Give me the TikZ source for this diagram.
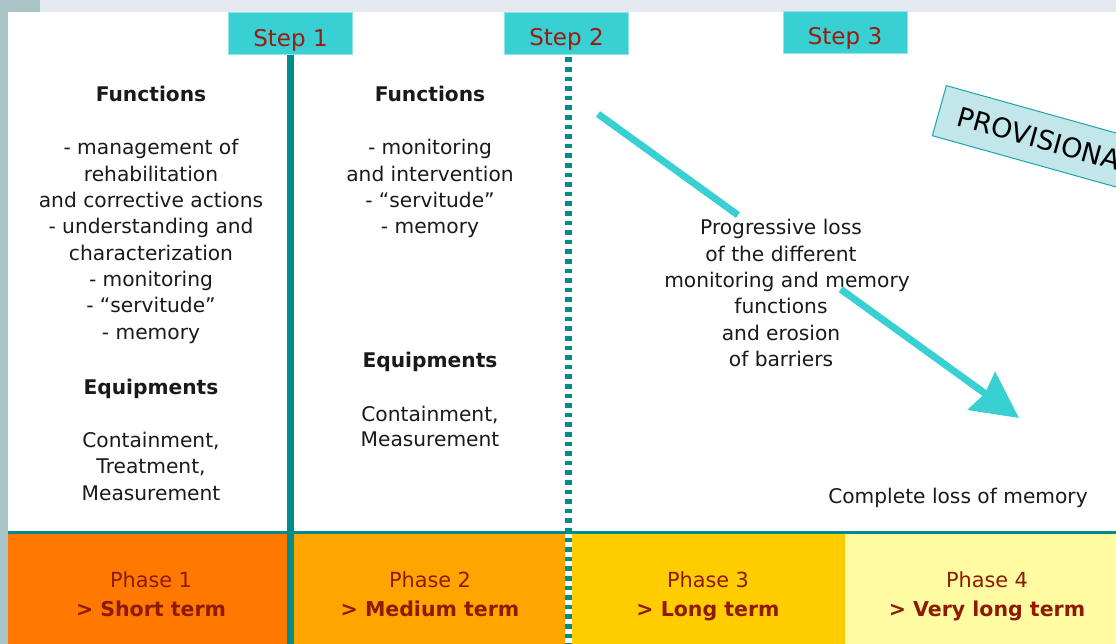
\documentclass[tikz,border=0pt]{standalone}
\usepackage{fontspec}
\setmainfont{DejaVu Sans}
\usetikzlibrary{arrows.meta,calc}
\definecolor{tealline}{HTML}{008B8B}
\definecolor{cyanfill}{HTML}{38D0D3}
\definecolor{stepred}{HTML}{9B1B0E}
\definecolor{phred}{HTML}{8E1A00}
\definecolor{phone}{HTML}{FF7800}
\definecolor{phtwo}{HTML}{FFA500}
\definecolor{phthree}{HTML}{FFCC00}
\definecolor{phfour}{HTML}{FFFBA2}
\definecolor{topband}{HTML}{E3E8F1}
\definecolor{sideband}{HTML}{A9C5C7}
\definecolor{provfill}{HTML}{C2E6E9}
\definecolor{provline}{HTML}{1AA5AA}
\definecolor{ink}{HTML}{1A1A1A}
\begin{document}
\begin{tikzpicture}[x=1pt,y=-1pt,
  txt/.style={anchor=base, inner sep=0pt, text=ink, font=\fontsize{20.2}{24}\selectfont},
  hd/.style={txt, font=\fontsize{20.2}{24}\selectfont\bfseries},
  stepbox/.style={fill=cyanfill, draw=cyanfill!55!white, line width=1pt, inner sep=0pt, minimum width=124pt, minimum height=42pt},
  steptxt/.style={anchor=base, inner sep=0pt, text=stepred, font=\fontsize{23}{27}\selectfont},
  phtxt/.style={anchor=base, inner sep=0pt, text=phred, font=\fontsize{20.8}{24}\selectfont},
  phbold/.style={phtxt, font=\fontsize{20.5}{24}\selectfont\bfseries},
  solidline/.style={draw=tealline, line width=7.6pt},
  dotline/.style={draw=tealline, line width=7pt, dash pattern=on 4.6pt off 5pt},
  arrowline/.style={draw=cyanfill, line width=7pt},
  prov/.style={fill=provfill, draw=provline, line width=1pt, minimum height=52pt, inner xsep=20pt, inner ysep=0pt, text=black, font=\fontsize{27}{32}\selectfont}
]
\useasboundingbox (0,0) rectangle (1116,644);
\clip (0,0) rectangle (1116,644);
% background bands
\fill[white] (0,0) rectangle (1116,644);
\fill[sideband] (0,0) rectangle (8,644);
\fill[sideband] (0,0) rectangle (40,12);
\fill[topband] (40,0) rectangle (1116,12);
% phase fills
\fill[phone] (8,534) rectangle (287,644);
\fill[phtwo] (287,534) rectangle (565,644);
\fill[phthree] (572,534) rectangle (845,644);
\fill[phfour] (845,534) rectangle (1116,644);
% horizontal line
\coordinate (h0) at (8,532.5);
\coordinate (h1) at (1116,532.5);
\draw[draw=tealline, line width=3.5pt] (h0) -- (h1);
% step boxes
\node[stepbox] (s1) at (290.5,34) {};
\node[stepbox] (s2) at (566.5,33.5) {};
\node[stepbox] (s3) at (845,32.5) {};
\node[steptxt] (t1) at (290.5,46.5) {Step 1};
\node[steptxt] (t2) at (566.5,46) {Step 2};
\node[steptxt] (t3) at (845,45) {Step 3};
% vertical lines
\coordinate (b1) at (290.5,644);
\coordinate (b2) at (568.5,644);
\draw[solidline] (s1.south -| b1) -- (b1);
\draw[draw=white, line width=7pt] (568.5,534) -- (b2);
\draw[dotline, shorten <=2.5pt] (s2.south -| b2) -- (b2);
% left column
\node[hd] (lf) at (151,102) {Functions};
\foreach \t [count=\i from 0] in {{- management of},{rehabilitation},{and corrective actions},{- understanding and},{characterization},{- monitoring},{- “servitude”},{- memory}}
  \node[txt] (la\i) at (151,155+26.3*\i) {\t};
\node[hd] (le) at (151,394) {Equipments};
\foreach \t [count=\i from 0] in {{Containment,},{Treatment,},{Measurement}}
  \node[txt] (lb\i) at (151,447+26.5*\i) {\t};
% middle column
\node[hd] (mf) at (430,102) {Functions};
\foreach \t [count=\i from 0] in {{- monitoring},{and intervention},{- “servitude”},{- memory}}
  \node[txt] (ma\i) at (430,155+26.3*\i) {\t};
\node[hd] (me) at (430,367) {Equipments};
\foreach \t [count=\i from 0] in {{Containment,},{Measurement}}
  \node[txt] (mb\i) at (430,421+25.5*\i) {\t};
% right text
\foreach \t/\xx [count=\i from 0] in {{Progressive loss}/781,{of the different}/781,{monitoring and memory}/787,{functions}/781,{and erosion}/781,{of barriers}/781}
  \node[txt] (ra\i) at (\xx,235+26.3*\i) {\t};
\node[txt] (rc) at (958,503) {Complete loss of memory};
% arrow
\coordinate (a0) at (598,114);
\coordinate (a3) at (1019,418);
\coordinate (a1) at ($(a0)!0.3325!(a3)$);
\coordinate (a2) at ($(a0)!0.5765!(a3)$);
\draw[arrowline] (a0) -- (a1);
\draw[arrowline, -{Stealth[length=46pt,width=46pt,inset=4pt]}] (a2) -- (a3);
% provisional
\node[prov, rotate=-15.6, anchor=north west] (pv) at (946,85) {PROVISIONAL};
% phase texts
\node[phtxt] (p1a) at (151,587) {Phase 1};
\node[phbold] (p1b) at (151,616) {> Short term};
\node[phtxt] (p2a) at (430,587) {Phase 2};
\node[phbold] (p2b) at (430,616) {> Medium term};
\node[phtxt] (p3a) at (708,587) {Phase 3};
\node[phbold] (p3b) at (708,616) {> Long term};
\node[phtxt] (p4a) at (987,587) {Phase 4};
\node[phbold] (p4b) at (987,616) {> Very long term};
\end{tikzpicture}
\end{document}
